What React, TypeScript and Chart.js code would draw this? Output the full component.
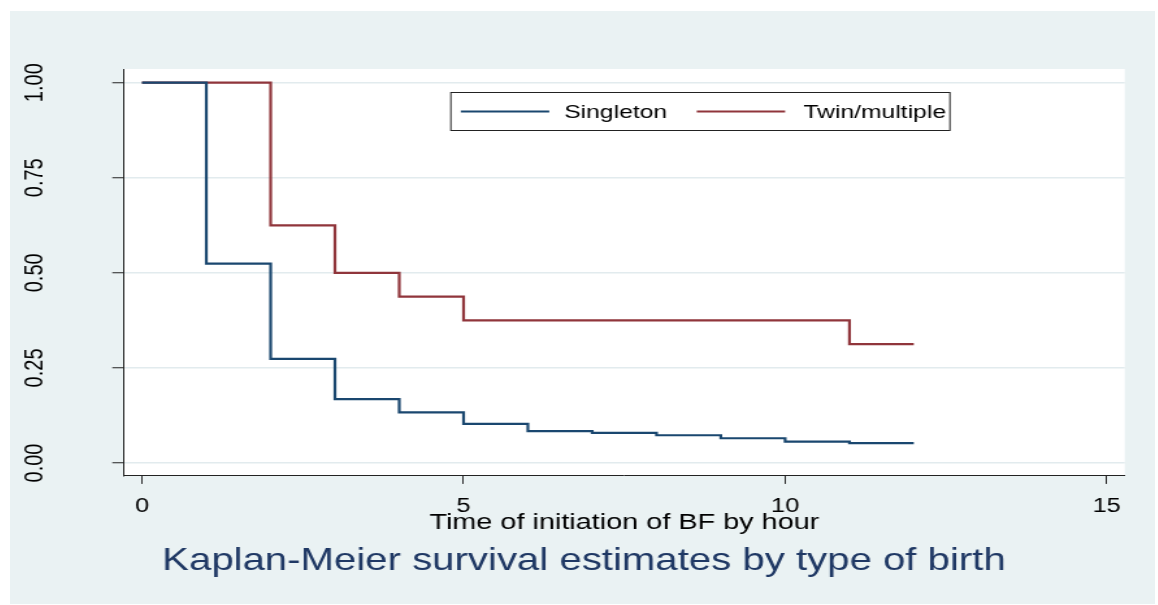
import React, { useEffect, useRef } from 'react';
import { Chart, registerables } from 'chart.js';

Chart.register(...registerables);

const SERIES_LABELS = ['Singleton', 'Twin/multiple'];
const SERIES_COLORS = ['#1a476f', '#90353b'];
const SINGLETON_TIMES = [0, 1, 2, 3, 4, 5, 6, 7, 8, 9, 10, 11, 12];
const SINGLETON_SURV = [1, 0.524, 0.274, 0.168, 0.133, 0.103, 0.084, 0.079, 0.073, 0.065, 0.056, 0.052, 0.052];
const TWIN_TIMES = [0, 2, 3, 4, 5, 11, 12];
const TWIN_SURV = [1, 0.625, 0.5, 0.4375, 0.375, 0.3125, 0.3125];
const X_TICKS = [0, 5, 10, 15];
const Y_TICKS = [0, 0.25, 0.5, 0.75, 1];
const TITLE = 'Kaplan-Meier survival estimates by type of birth';
const X_TITLE = 'Time of initiation of BF by hour';

const FONT = "'Liberation Sans', Arial, Helvetica, sans-serif";
const STRETCH = 1145 / 881;

const toPoints = (xs: number[], ys: number[]) => xs.map((x, i) => ({ x, y: ys[i] }));

const plotBgPlugin = {
  id: 'plotBg',
  beforeDraw(chart: any) {
    const { ctx, chartArea } = chart;
    ctx.save();
    ctx.fillStyle = '#ffffff';
    ctx.fillRect(chartArea.left, chartArea.top, chartArea.right - chartArea.left, chartArea.bottom - chartArea.top);
    ctx.restore();
  },
};

const legendBoxPlugin = {
  id: 'legendBox',
  afterDatasetsDraw(chart: any) {
    const { ctx, chartArea } = chart;
    const x0 = chartArea.left + 251;
    const y0 = chartArea.top + 23;
    const w = 384;
    const h = 38;
    ctx.save();
    ctx.fillStyle = '#ffffff';
    ctx.fillRect(x0, y0, w, h);
    ctx.strokeStyle = '#222222';
    ctx.lineWidth = 1;
    ctx.strokeRect(x0 + 0.5, y0 + 0.5, w, h);
    const lineStarts = [8.2, 189.7];
    const textStarts = [87.7, 271.7];
    const cy = y0 + 19.5;
    chart.data.datasets.forEach((ds: any, i: number) => {
      ctx.strokeStyle = ds.borderColor;
      ctx.lineWidth = 2.2;
      ctx.beginPath();
      ctx.moveTo(x0 + lineStarts[i], cy);
      ctx.lineTo(x0 + lineStarts[i] + 68, cy);
      ctx.stroke();
      ctx.fillStyle = '#000000';
      ctx.font = `19px ${FONT}`;
      ctx.textAlign = 'left';
      ctx.textBaseline = 'middle';
      ctx.fillText(ds.label, x0 + textStarts[i], cy + 1);
    });
    ctx.restore();
  },
};

export default function App() {
  const canvasRef = useRef<HTMLCanvasElement | null>(null);

  useEffect(() => {
    if (!canvasRef.current) return;
    const chart = new Chart(canvasRef.current, {
      type: 'line',
      data: {
        datasets: [
          {
            label: SERIES_LABELS[0],
            data: toPoints(SINGLETON_TIMES, SINGLETON_SURV),
            borderColor: SERIES_COLORS[0],
            backgroundColor: SERIES_COLORS[0],
            borderWidth: 2.2,
            pointRadius: 0,
            stepped: 'before',
            fill: false,
          },
          {
            label: SERIES_LABELS[1],
            data: toPoints(TWIN_TIMES, TWIN_SURV),
            borderColor: SERIES_COLORS[1],
            backgroundColor: SERIES_COLORS[1],
            borderWidth: 2.2,
            pointRadius: 0,
            stepped: 'before',
            fill: false,
          },
        ],
      },
      options: {
        animation: false,
        responsive: true,
        maintainAspectRatio: false,
        devicePixelRatio: 1,
        layout: { padding: { top: 58, left: 2.2, right: 0, bottom: 24 } },
        plugins: {
          legend: { display: false },
          tooltip: { enabled: false },
          title: {
            display: true,
            text: TITLE,
            position: 'bottom',
            color: '#1f3864',
            font: { family: FONT, size: 30.9, weight: 'normal' },
            padding: { top: 4, bottom: 0 },
          },
        },
        scales: {
          x: {
            type: 'linear',
            min: -0.28,
            max: 15.28,
            afterBuildTicks: (s: any) => {
              s.ticks = X_TICKS.map((v) => ({ value: v }));
            },
            afterFit: (s: any) => {
              s.height = 63;
            },
            ticks: {
              color: '#000000',
              font: { family: FONT, size: 19.5 },
              padding: 11,
              maxRotation: 0,
              minRotation: 0,
              callback: (v: any) => String(v),
            },
            grid: {
              display: true,
              drawOnChartArea: false,
              drawTicks: true,
              tickLength: 8,
              tickColor: '#222222',
              tickWidth: 1,
            },
            border: { display: true, color: '#222222', width: 1 },
            title: {
              display: true,
              text: X_TITLE,
              color: '#000000',
              font: { family: FONT, size: 22.2 },
              padding: { top: 0, bottom: 2.5 },
            },
          },
          y: {
            type: 'linear',
            position: 'left',
            min: -0.034,
            max: 1.036,
            afterBuildTicks: (s: any) => {
              s.ticks = Y_TICKS.map((v) => ({ value: v }));
            },
            afterFit: (s: any) => {
              s.width = 85.5;
            },
            ticks: {
              color: '#000000',
              font: { family: FONT, size: 20 },
              padding: 40,
              minRotation: 90,
              maxRotation: 90,
              crossAlign: 'center',
              callback: (v: any) => Number(v).toFixed(2),
            },
            grid: {
              display: true,
              drawOnChartArea: true,
              drawTicks: true,
              color: '#e2ebee',
              lineWidth: 1.5,
              tickLength: 9,
              tickColor: '#222222',
              tickWidth: 1,
            },
            border: { display: true, color: '#222222', width: 1 },
          },
          yRightMargin: {
            type: 'linear',
            position: 'right',
            display: true,
            min: -0.034,
            max: 1.036,
            afterFit: (s: any) => {
              s.width = 23.3;
            },
            ticks: { display: false },
            grid: { display: false, drawTicks: false },
            border: { display: false },
          },
        },
      },
      plugins: [plotBgPlugin, legendBoxPlugin],
    } as any);
    return () => chart.destroy();
  }, []);

  return (
    <div style={{ position: 'absolute', left: 0, top: 0, width: 1158, height: 605, background: '#ffffff', overflow: 'hidden' }}>
      <div style={{ position: 'absolute', left: 10, top: 11, width: 1145, height: 593, background: '#eaf2f3' }} />
      <div
        style={{
          position: 'absolute',
          left: 10,
          top: 11,
          width: 881,
          height: 593,
          transform: `scaleX(${STRETCH})`,
          transformOrigin: '0 0',
        }}
      >
        <canvas ref={canvasRef} />
      </div>
    </div>
  );
}
